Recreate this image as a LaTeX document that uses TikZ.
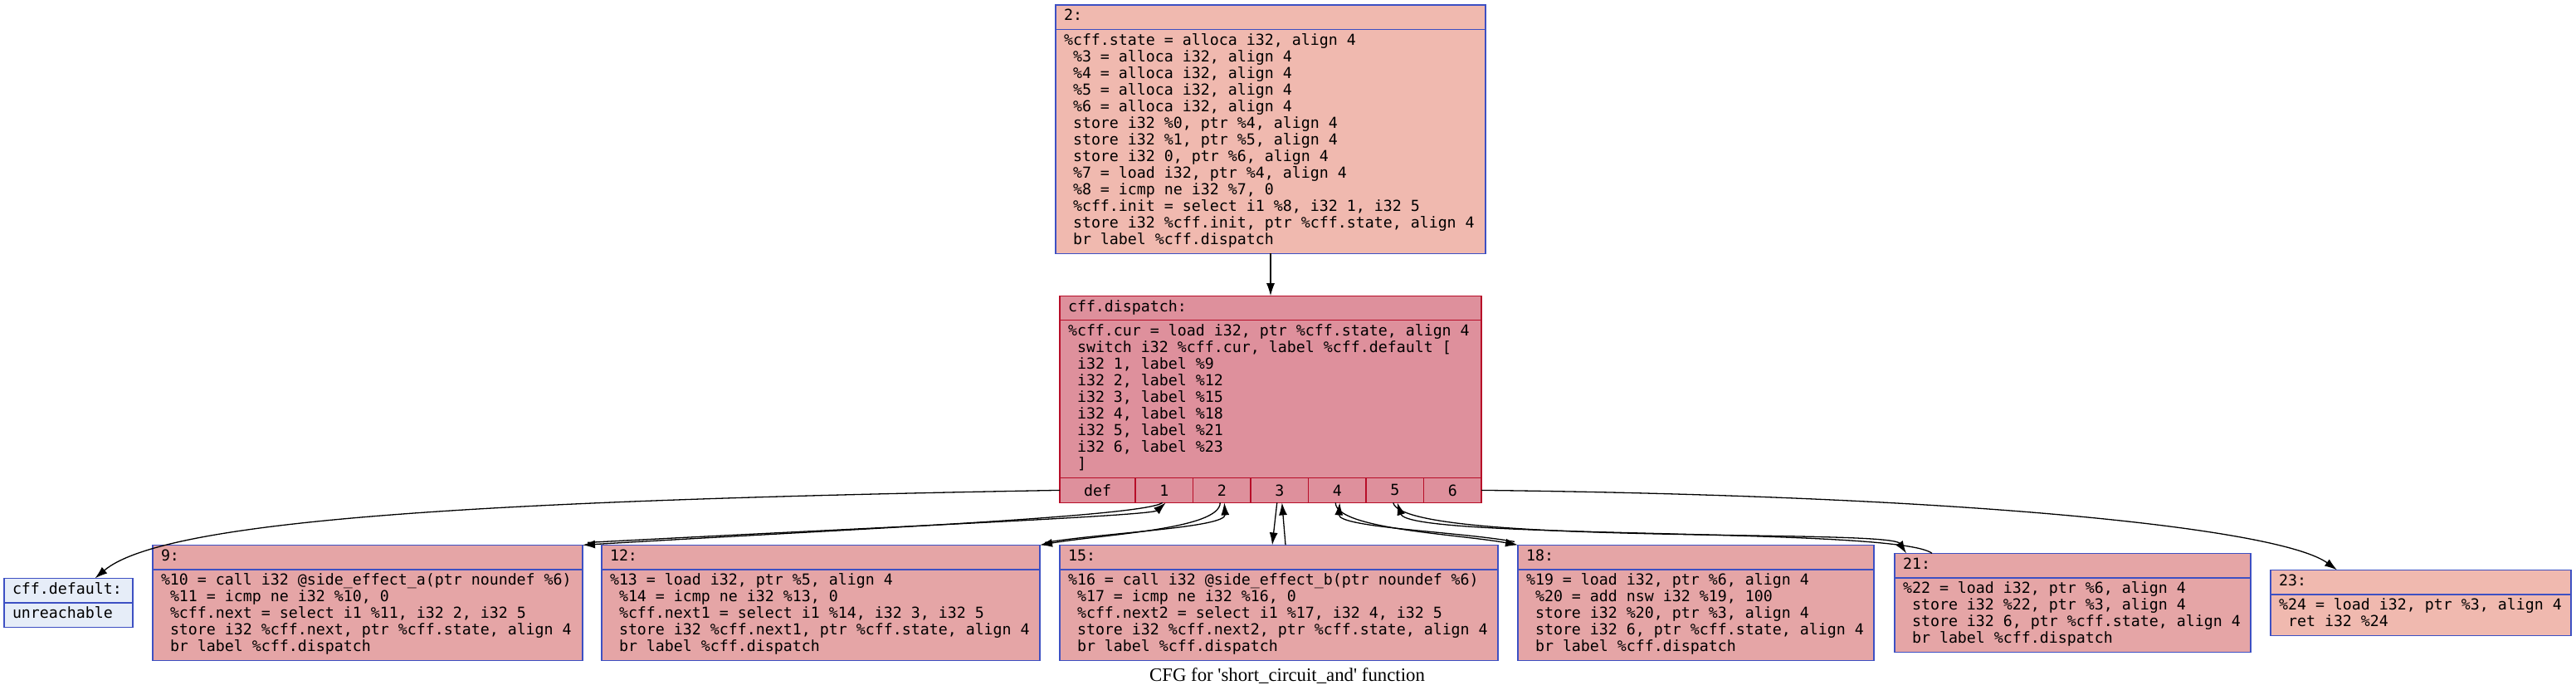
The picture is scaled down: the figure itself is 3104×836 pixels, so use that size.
\documentclass[tikz,border=0pt]{standalone}
\usepackage{fontspec}
\setmainfont{Liberation Serif}
\setmonofont{DejaVu Sans Mono}
\usetikzlibrary{calc,positioning,shapes.multipart,arrows.meta}
\definecolor{coldfill}{HTML}{E6EDF8}
\definecolor{warmfill}{HTML}{F0B9AF}
\definecolor{midfill}{HTML}{E5A5A6}
\definecolor{hotfill}{HTML}{DE909C}
\definecolor{coldline}{HTML}{3D50C3}
\definecolor{hotline}{HTML}{B70D28}
\newcommand{\irfont}{\ttfamily\fontsize{9.13}{10}\selectfont}
% strut plus full-width spaces (align=left narrows them)
\newcommand{\irl}{\strut\spaceskip=5.5pt\xspaceskip=5.5pt\relax}

\begin{document}
\begin{tikzpicture}[x=0.5pt,y=0.5pt,
    block/.style={rectangle split,rectangle split parts=2,draw=coldline,fill=midfill,line width=0.6pt,
      anchor=north west,align=left,text width=#1,inner xsep=5pt,inner ysep=2.1pt,outer sep=0pt,
      font=\irfont},
    port/.style={draw=hotline,fill=hotfill,line width=0.6pt,minimum width=#1,minimum height=15pt,
      inner sep=0pt,outer sep=0pt,font=\irfont},
    arrow/.style={-{Latex[length=7.5pt,width=5pt]},line width=0.65pt}]
  \useasboundingbox (0,0) rectangle (3104,-836);

  \node[block=249pt,fill=warmfill,anchor=north] (b2) at (1531,-6) {\irl 2:
    \nodepart{two}\irl\%cff.state = alloca i32, align 4\\
    ~\%3 = alloca i32, align 4\\
    ~\%4 = alloca i32, align 4\\
    ~\%5 = alloca i32, align 4\\
    ~\%6 = alloca i32, align 4\\
    ~store i32 \%0, ptr \%4, align 4\\
    ~store i32 \%1, ptr \%5, align 4\\
    ~store i32 0, ptr \%6, align 4\\
    ~\%7 = load i32, ptr \%4, align 4\\
    ~\%8 = icmp ne i32 \%7, 0\\
    ~\%cff.init = select i1 \%8, i32 1, i32 5\\
    ~store i32 \%cff.init, ptr \%cff.state, align 4\\
    ~br label \%cff.dispatch\strut};
  \node[block=244pt,draw=hotline,fill=hotfill,anchor=north] (disp) at ($ (b2.south) + (0,-51) $) {\irl cff.dispatch:
    \nodepart{two}\irl\%cff.cur = load i32, ptr \%cff.state, align 4\\
    ~switch i32 \%cff.cur, label \%cff.default [\\
    ~i32 1, label \%9\\
    ~i32 2, label \%12\\
    ~i32 3, label \%15\\
    ~i32 4, label \%18\\
    ~i32 5, label \%21\\
    ~i32 6, label \%23\\
    ~]\strut};
  \node[port=45.5pt,anchor=north west] (pdef) at (disp.south west) {def};
  \node[port=34.75pt,right=0pt of pdef] (p1) {1};
  \node[port=34.75pt,right=0pt of p1] (p2) {2};
  \node[port=34.75pt,right=0pt of p2] (p3) {3};
  \node[port=34.75pt,right=0pt of p3] (p4) {4};
  \node[port=34.75pt,right=0pt of p4] (p5) {5};
  \node[port=34.75pt,right=0pt of p5] (p6) {6};

  \node[block=254pt] (b15) at ($ (pdef.south west) + (0,-51) $) {\irl 15:
    \nodepart{two}\irl\%16 = call i32 @side\_effect\_b(ptr noundef \%6)\\
    ~\%17 = icmp ne i32 \%16, 0\\
    ~\%cff.next2 = select i1 \%17, i32 4, i32 5\\
    ~store i32 \%cff.next2, ptr \%cff.state, align 4\\
    ~br label \%cff.dispatch\strut};
  \node[block=254pt,anchor=north east] (b12) at ($ (b15.north west) + (-24,0) $) {\irl 12:
    \nodepart{two}\irl\%13 = load i32, ptr \%5, align 4\\
    ~\%14 = icmp ne i32 \%13, 0\\
    ~\%cff.next1 = select i1 \%14, i32 3, i32 5\\
    ~store i32 \%cff.next1, ptr \%cff.state, align 4\\
    ~br label \%cff.dispatch\strut};
  \node[block=249pt,anchor=north east] (b9) at ($ (b12.north west) + (-23,0) $) {\irl 9:
    \nodepart{two}\irl\%10 = call i32 @side\_effect\_a(ptr noundef \%6)\\
    ~\%11 = icmp ne i32 \%10, 0\\
    ~\%cff.next = select i1 \%11, i32 2, i32 5\\
    ~store i32 \%cff.next, ptr \%cff.state, align 4\\
    ~br label \%cff.dispatch\strut};
  \node[block=67.5pt,fill=coldfill,anchor=north east] (bdef) at ($ (b9.north west) + (-24,-40) $) {\irl cff.default:
    \nodepart{two}\irl unreachable};
  \node[block=204.5pt] (b18) at ($ (b15.north east) + (24,0) $) {\irl 18:
    \nodepart{two}\irl\%19 = load i32, ptr \%6, align 4\\
    ~\%20 = add nsw i32 \%19, 100\\
    ~store i32 \%20, ptr \%3, align 4\\
    ~store i32 6, ptr \%cff.state, align 4\\
    ~br label \%cff.dispatch\strut};
  \node[block=204.5pt] (b21) at ($ (b18.north east) + (25,-10) $) {\irl 21:
    \nodepart{two}\irl\%22 = load i32, ptr \%6, align 4\\
    ~store i32 \%22, ptr \%3, align 4\\
    ~store i32 6, ptr \%cff.state, align 4\\
    ~br label \%cff.dispatch\strut};
  \node[block=171pt,fill=warmfill] (b23) at ($ (b21.north east) + (24,-20) $) {\irl 23:
    \nodepart{two}\irl\%24 = load i32, ptr \%3, align 4\\
    ~ret i32 \%24\strut};

  \node[font=\rmfamily\fontsize{11.4}{13}\selectfont] (title) at (1551,-814)
    {CFG for \textquotesingle short\_circuit\_and\textquotesingle{} function};

  \draw[arrow] (b2.south) -- (disp.north);
  \draw[arrow] (pdef.west) .. controls +(-677,-12) and +(85,72) .. ($ (bdef.north) + (32,0) $);
  \draw[arrow] (p6.east) .. controls +(615,-7) and +(-66,48) .. ($ (b23.north west) + (80,0) $);
  \draw[arrow] ($ (p1.south) + (-2,0) $) .. controls +(-22,-17) and +(298,18) .. (b9.north east);
  \draw[arrow] ($ (b9.north east) + (6,3) $) .. controls +(298,16) and +(-18,-16) .. ($ (p1.south) + (2,0) $);
  \draw[arrow] ($ (p2.south) + (-2,0) $) .. controls +(0,-32) and +(77,13) .. (b12.north east);
  \draw[arrow] ($ (b12.north east) + (6,3) $) .. controls +(74,12) and +(2,-30) .. ($ (p2.south) + (3,0) $);
  \draw[arrow] ($ (p3.south) + (-3,0) $) -- ($ (b15.north west) + (256,0) $);
  \draw[arrow] ($ (b15.north west) + (272,0) $) -- ($ (p3.south) + (3,0) $);
  \draw[arrow] ($ (p4.south) + (-2,0) $) .. controls +(0,-32) and +(-69,13) .. (b18.north west);
  \draw[arrow] ($ (b18.north west) + (-4,4) $) .. controls +(-66,12) and +(-2,-30) .. ($ (p4.south) + (3,0) $);
  \draw[arrow] ($ (p5.south) + (-2,0) $) .. controls +(12,-52) and +(-20,30) .. ($ (b21.north west) + (14,0) $);
  \draw[arrow] ($ (b21.north west) + (45,0) $) .. controls +(-40,32) and +(14,-45) .. ($ (p5.south) + (3,0) $);
\end{tikzpicture}
\end{document}
